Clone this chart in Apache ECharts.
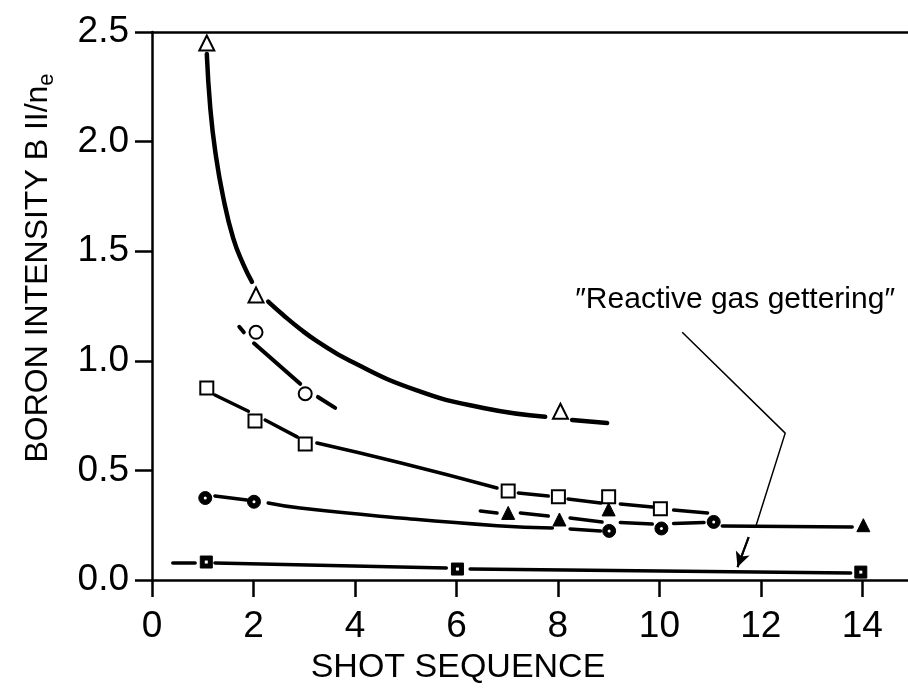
<!DOCTYPE html>
<html><head><meta charset="utf-8">
<script src="https://cdn.jsdelivr.net/npm/echarts@6/dist/echarts.min.js"></script>
<style>html,body{margin:0;padding:0;background:#fff}#c{width:908px;height:693px}</style>
</head><body><div id="c"></div>
<script>
// ---- Data ----
const xTicks = [0, 2, 4, 6, 8, 10, 12, 14];
const yTicks = [0, 0.5, 1.0, 1.5, 2.0, 2.5];

// markers
const openTriangle = [[1.08, 2.45], [2.05, 1.30], [8.05, 0.77]];
const openCircle = [[2.05, 1.13], [3.02, 0.85]];
const openSquare = [[1.08, 0.876], [2.03, 0.725], [3.02, 0.62], [7.02, 0.406], [8.01, 0.38], [9.0, 0.38], [10.02, 0.325]];
const dotCircle = [[1.05, 0.374], [2.01, 0.357], [9.01, 0.224], [10.04, 0.235], [11.07, 0.265]];
const filledTriangle = [[7.02, 0.306], [8.03, 0.276], [9.0, 0.322], [14.02, 0.25]];
const filledSquare = [[1.07, 0.082], [6.02, 0.05], [13.97, 0.036]];

// drawn curves (segments between markers)
const triCurve = [
  [[1.08, 2.40], [1.15, 2.15], [1.25, 1.95], [1.4, 1.75], [1.6, 1.56], [1.8, 1.44], [1.97, 1.36]],
  [[2.29, 1.27], [2.58, 1.21], [2.92, 1.145], [3.25, 1.09], [3.9, 1.0], [5.22, 0.865], [6.53, 0.785], [7.75, 0.745]],
  [[8.28, 0.73], [8.97, 0.716]]
];
const circCurve = [
  [[1.72, 1.155], [1.81, 1.13]],
  [[2.01, 1.08], [2.92, 0.895]],
  [[3.27, 0.835], [3.61, 0.785]]
];
const sqCurve = [
  [[1.24, 0.844], [1.9, 0.77]],
  [[2.23, 0.73], [2.86, 0.653]],
  [[3.25, 0.625], [4.89, 0.535], [6.8, 0.42]],
  [[7.22, 0.397], [7.81, 0.383]],
  [[8.2, 0.37], [8.84, 0.351]],
  [[9.23, 0.347], [9.86, 0.333]],
  [[10.28, 0.319], [10.95, 0.306]]
];
const dotCurve = [
  [[1.24, 0.383], [1.87, 0.365]],
  [[2.29, 0.351], [2.92, 0.328], [4.89, 0.283], [6.8, 0.248], [7.89, 0.237]],
  [[8.24, 0.233], [8.84, 0.224]],
  [[9.23, 0.262], [9.86, 0.255]],
  [[10.28, 0.258], [10.88, 0.262]],
  [[11.24, 0.246], [13.8, 0.242]]
];
const ftriCurve = [
  [[6.47, 0.315], [6.8, 0.306]],
  [[7.26, 0.306], [7.81, 0.292]],
  [[8.24, 0.283], [8.87, 0.265]]
];
const fsqCurve = [
  [[0.41, 0.078], [0.85, 0.078]],
  [[1.24, 0.078], [5.8, 0.055]],
  [[6.27, 0.05], [13.77, 0.032]]
];
const leaderLine = [[10.45, 1.13], [12.48, 0.67], [11.89, 0.237]];
const arrowLine = [[11.76, 0.196], [11.54, 0.059]];

const annotationText = '\u2033Reactive gas gettering\u2033';
const xTitle = 'SHOT SEQUENCE';
const yTitleMain = 'BORON INTENSITY B II/n';
const yTitleSub = 'e';

// ---- Chart ----
const FF = "'Liberation Sans', Arial, Helvetica, sans-serif";
const series = [];
function addSegs(list, width) {
  list.forEach(d => series.push({
    type: 'line', data: d, symbol: 'none', smooth: d.length > 2 ? 0.5 : false,
    lineStyle: { color: '#000', width: width, cap: 'round' }, z: 2, silent: true, animation: false
  }));
}
addSegs(triCurve, 4.5);
addSegs(circCurve, 4);
addSegs(sqCurve, 3.5);
addSegs(dotCurve, 3.5);
addSegs(ftriCurve, 3.5);
addSegs(fsqCurve, 3.5);

function addMarks(d, symbol, size, fill, bw) {
  series.push({
    type: 'scatter', data: d, symbol: symbol, symbolSize: size, z: 3, silent: true, animation: false,
    itemStyle: { color: fill, borderColor: '#000', borderWidth: bw, opacity: 1 }
  });
}
addMarks(openTriangle, 'triangle', 15, '#fff', 2);
addMarks(openCircle, 'circle', 13, '#fff', 2);
addMarks(openSquare, 'rect', 13, '#fff', 2);
addMarks(dotCircle, 'circle', 13, '#000', 1);
addMarks(dotCircle, 'circle', 3, '#fff', 0);
addMarks(filledTriangle, 'triangle', 13, '#000', 1);
addMarks(filledSquare, 'rect', 12, '#000', 1);
addMarks(filledSquare, 'rect', 3, '#fff', 0);

// leader line and arrow
series.push({
  type: 'line', data: leaderLine, symbol: 'none', lineStyle: { color: '#000', width: 1.5 }, z: 2, silent: true, animation: false
});
series.push({
  type: 'line', data: arrowLine, symbol: 'none', lineStyle: { color: '#000', width: 2 }, z: 2, silent: true, animation: false,
  markLine: {
    silent: true, animation: false, symbol: ['none', 'arrow'], symbolSize: [11, 15],
    lineStyle: { color: '#000', width: 2, type: 'solid' }, label: { show: false },
    data: [[{ coord: arrowLine[0] }, { coord: arrowLine[1] }]]
  }
});

const axisLineStyle = { color: '#000', width: 2.5 };
const option = {
  animation: false,
  backgroundColor: '#fff',
  grid: { left: 152, top: 32, right: 0, bottom: 113 },
  xAxis: [{
    type: 'value', min: 0, max: 14.9, position: 'bottom',
    axisLine: { show: true, onZero: false, lineStyle: axisLineStyle },
    axisTick: { show: true, customValues: xTicks, length: 17, lineStyle: axisLineStyle },
    axisLabel: { customValues: xTicks, margin: 28, fontSize: 37, color: '#000', fontFamily: FF },
    splitLine: { show: false }
  }, {
    type: 'value', min: 0, max: 14.9, position: 'top',
    axisLine: { show: true, onZero: false, lineStyle: axisLineStyle },
    axisTick: { show: false }, axisLabel: { show: false }, splitLine: { show: false }
  }],
  yAxis: {
    type: 'value', min: 0, max: 2.5, interval: 0.5,
    axisLine: { show: true, onZero: false, lineStyle: axisLineStyle },
    axisTick: { show: true, customValues: yTicks, length: 17, lineStyle: axisLineStyle },
    axisLabel: { customValues: yTicks, formatter: v => v.toFixed(1), margin: 23, fontSize: 37, color: '#000', fontFamily: FF },
    splitLine: { show: false }
  },
  graphic: [
    { type: 'text', x: 895, y: 300, silent: true,
      style: { text: annotationText, align: 'right', verticalAlign: 'middle', font: '30px ' + FF, fill: '#000' } },
    { type: 'text', x: 458, y: 668, silent: true,
      style: { text: xTitle, align: 'center', verticalAlign: 'middle', font: '34px ' + FF, fill: '#000' } },
    { type: 'text', x: 38, y: 268, rotation: Math.PI / 2, silent: true,
      style: {
        text: '{a|' + yTitleMain + '}{s|' + yTitleSub + '}', align: 'center', verticalAlign: 'middle', fill: '#000',
        rich: {
          a: { fontSize: 32, fontFamily: FF, color: '#000', lineHeight: 40 },
          s: { fontSize: 22, fontFamily: FF, color: '#000', lineHeight: 40, verticalAlign: 'bottom', padding: [14, 0, 0, 0] }
        }
      } }
  ],
  series: series
};
const chart = echarts.init(document.getElementById('c'), null, { renderer: 'canvas' });
chart.setOption(option);
</script></body></html>
